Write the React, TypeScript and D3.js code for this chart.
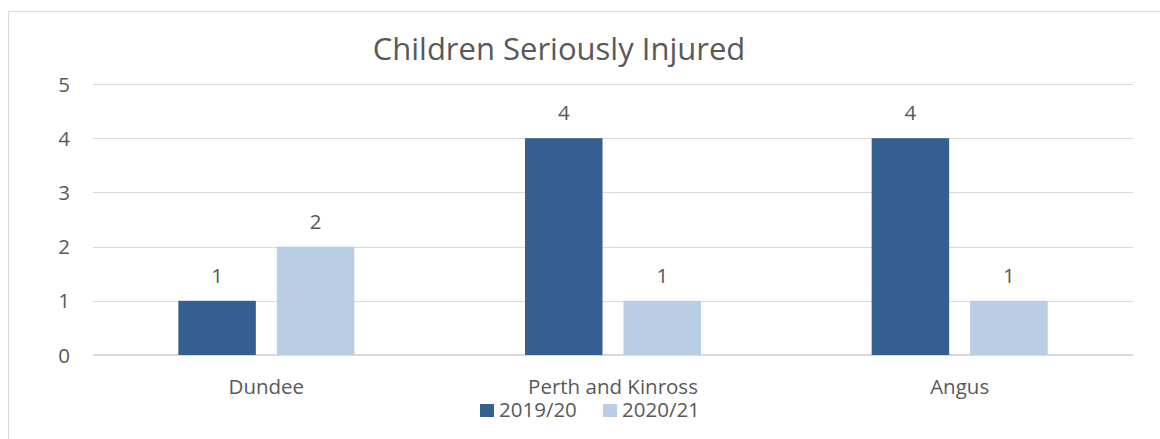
import React from "react";
import * as d3 from "d3";

const categories = ["Dundee", "Perth and Kinross", "Angus"];
const seriesNames = ["2019/20", "2020/21"];
const values2019 = [1, 4, 4];
const values2020 = [2, 1, 1];
const yTicks = [0, 1, 2, 3, 4, 5];
const title = "Children Seriously Injured";

const colors = ["#365f91", "#b9cde5"];
const textColor = "#595959";
const font = "'Open Sans', sans-serif";

export default function App() {
  const W = 1160, H = 439;
  const left = 93, right = 1133, top = 84, bottom = 355;
  const x0 = d3.scaleBand<string>().domain(categories).range([left, right]).padding(0);
  const groupW = 176;
  const x1 = d3.scaleBand<string>().domain(seriesNames).range([0, groupW]).paddingInner(0.213).paddingOuter(0);
  const y = d3.scaleLinear().domain([0, 5]).range([bottom, top]);
  const series = [values2019, values2020];
  const fs = 20.5;

  return (
    <svg width={W} height={H} style={{ position: "absolute", left: 0, top: 0 }}>
      <rect x={0} y={0} width={W} height={H} fill="#fff" />
      <path d={`M8.5,${H + 5}V11.5H${W + 5}`} fill="none" stroke="#d9d9d9" strokeWidth={1} />
      <text x={559} y={60} textAnchor="middle" fontFamily={font} fontSize={31} fill={textColor}>
        {title}
      </text>
      {yTicks.map((t) => (
        <g key={t}>
          <line
            x1={left}
            x2={right}
            y1={Math.round(y(t)) + (t === 0 ? 0 : 0.5)}
            y2={Math.round(y(t)) + (t === 0 ? 0 : 0.5)}
            stroke="#d9d9d9"
            strokeWidth={t === 0 ? 2 : 1}
          />
          <text x={70} y={y(t) + 7.5} textAnchor="end" fontFamily={font} fontSize={fs} fill={textColor}>
            {t}
          </text>
        </g>
      ))}
      {categories.map((c, i) => {
        const gx = (x0(c) as number) + (x0.bandwidth() - groupW) / 2;
        return (
          <g key={c}>
            {seriesNames.map((s, j) => {
              const v = series[j][i];
              const bx = gx + (x1(s) as number);
              return (
                <g key={s}>
                  <rect x={bx} y={y(v)} width={x1.bandwidth()} height={y(0) - y(v)} fill={colors[j]} />
                  <text
                    x={bx + x1.bandwidth() / 2}
                    y={y(v) - 18}
                    textAnchor="middle"
                    fontFamily={font}
                    fontSize={fs}
                    fill={textColor}
                  >
                    {v}
                  </text>
                </g>
              );
            })}
            <text
              x={(x0(c) as number) + x0.bandwidth() / 2}
              y={394}
              textAnchor="middle"
              fontFamily={font}
              fontSize={fs}
              fill={textColor}
            >
              {c}
            </text>
          </g>
        );
      })}
      {seriesNames.map((s, j) => {
        const lx = j === 0 ? 480 : 603;
        return (
          <g key={s}>
            <rect x={lx} y={404} width={14} height={13} fill={colors[j]} />
            <text x={lx + 19} y={417} fontFamily={font} fontSize={fs} fill={textColor}>
              {s}
            </text>
          </g>
        );
      })}
    </svg>
  );
}
